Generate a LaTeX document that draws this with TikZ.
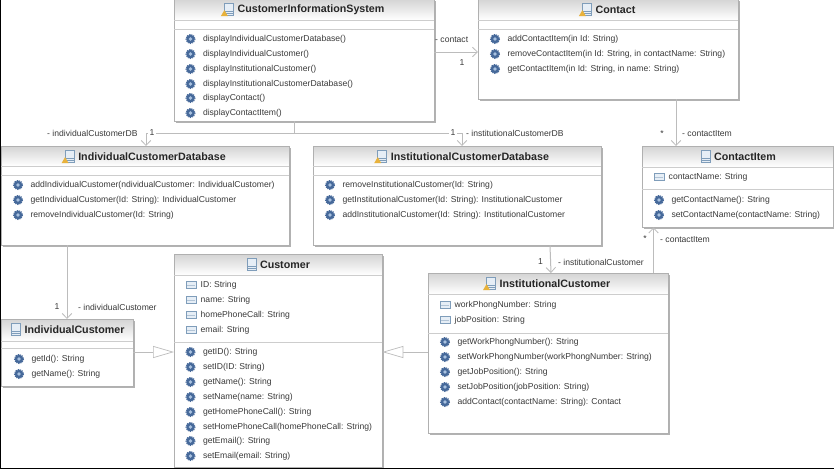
\documentclass[tikz,border=0pt]{standalone}
\usepackage{fontspec}
\setmainfont{Liberation Sans}
\usetikzlibrary{arrows.meta,calc}
\definecolor{edgec}{HTML}{B0B0B0}
\definecolor{connc}{HTML}{BCBCBC}
\definecolor{sepc}{HTML}{CDCDCD}
\definecolor{txtc}{HTML}{3A3A3A}
\definecolor{gearc}{HTML}{46699A}
\definecolor{gearl}{HTML}{A9C2E0}
\definecolor{iconc}{HTML}{7F9DBA}
\definecolor{iconf}{HTML}{E6EEF6}
\definecolor{warnc}{HTML}{E8B23C}
\tikzset{
 x=1pt,y=-1pt,
 classbox/.style={inner sep=0,rectangle},
 conn/.style={draw=connc,line width=1pt},
 navi/.style={conn,-{Straight Barb[length=5pt,width=9.5pt,line width=.8pt]}},
 gen/.style={conn,-{Triangle[open,length=21pt,width=12pt,fill=white,line width=.7pt]}},
 mem/.style={anchor=west,inner sep=0,font=\fontsize{8.6}{10}\selectfont,text=txtc},
 ttl/.style={anchor=center,inner sep=0,font=\bfseries\fontsize{10.7}{12}\selectfont,text=black!85},
 lab/.style={inner sep=0,font=\fontsize{8.6}{10}\selectfont,text=txtc},
 labw/.style={lab,fill=white,inner sep=1.5pt},
}
% name, x0,y0,x1,y1, title-bottom y, title centre x, title, warning(1/0)
\newcommand{\classbox}[9]{%
 \fill[black!30] (#2+1.8,#3+1.8) rectangle (#4+1.8,#5+1.8);
 \fill[white] (#2,#3) rectangle (#4,#5);
 \shade[top color=black!17,bottom color=white] (#2,#3) rectangle (#4,#6);
 \node[classbox,minimum width=#4pt-#2pt,minimum height=#5pt-#3pt,anchor=north west] (#1) at (#2,#3) {};
 \draw[edgec,line width=.8pt] (#2,#3) rectangle (#4,#5);
 \draw[sepc,line width=.8pt] (#2,#6) -- (#4,#6);
 \node[ttl] (#1t) at (#7,#3+10.6) {#8};
 \draw[iconc,fill=iconf,line width=.6pt] ($(#1t.west)+(-13,-6)$) rectangle ($(#1t.west)+(-4,6)$);
 \draw[iconc,line width=.5pt] ($(#1t.west)+(-13,1.5)$) -- ($(#1t.west)+(-4,1.5)$);
 \draw[iconc,line width=.5pt] ($(#1t.west)+(-13,3.7)$) -- ($(#1t.west)+(-4,3.7)$);
 \ifnum#9=1
 \fill[warnc] ($(#1t.west)+(-16.5,6.5)$) -- ($(#1t.west)+(-9.5,6.5)$) -- ($(#1t.west)+(-13,0.5)$) -- cycle;
 \fi
}
\newcommand{\sepl}[3]{\draw[sepc,line width=.8pt] (#1,#3) -- (#2,#3);}
% operation: x icon, y, text
\newcommand{\op}[3]{%
 \fill[gearc] (#1,#2) circle (4.3);
 \draw[gearc,line width=.9pt,dash pattern=on 1.2pt off 1pt] (#1,#2) circle (4.6);
 \fill[gearl] (#1,#2) circle (1.9);
 \node[mem] at (#1+12.3,#2+.5) {#3};}
% attribute: x icon, y, text
\newcommand{\attr}[3]{%
 \draw[iconc,fill=iconf,line width=.8pt] (#1-5,#2-3.2) rectangle (#1+5,#2+3.2);
 \draw[iconc!60,line width=1.2pt] (#1-3.6,#2+.3) -- (#1+3.6,#2+.3);
 \node[mem] at (#1+9.5,#2+.5) {#3};}
\begin{document}
\begin{tikzpicture}
\useasboundingbox (0,0) rectangle (834,469);
\fill[white] (0,0) rectangle (834,469);

\classbox{cis}{174}{-1}{434}{121}{20}{311}{CustomerInformationSystem}{1}
\sepl{174}{434}{29}
\op{190.5}{39}{displayIndividualCustomerDatabase()}
\op{190.5}{54}{displayIndividualCustomer()}
\op{190.5}{69}{displayInstitutionalCustomer()}
\op{190.5}{84}{displayInstitutionalCustomerDatabase()}
\op{190.5}{98}{displayContact()}
\op{190.5}{113}{displayContactItem()}

\classbox{contact}{478}{-1}{738}{99}{20}{615.5}{Contact}{1}
\sepl{478}{738}{29}
\op{495}{39}{addContactItem(in Id: String)}
\op{495}{54}{removeContactItem(in Id: String, in contactName: String)}
\op{495}{69}{getContactItem(in Id: String, in name: String)}

\classbox{icd}{1}{146}{289}{245}{166}{152}{IndividualCustomerDatabase}{1}
\sepl{1}{289}{175}
\op{18}{185}{addIndividualCustomer(ndividualCustomer: IndividualCustomer)}
\op{18}{200}{getIndividualCustomer(Id: String): IndividualCustomer}
\op{18}{215}{removeIndividualCustomer(Id: String)}

\classbox{instdb}{313}{146}{601}{245}{166}{470}{InstitutionalCustomerDatabase}{1}
\sepl{313}{601}{175}
\op{330}{185}{removeInstitutionalCustomer(Id: String)}
\op{330}{200}{getInstitutionalCustomer(Id: String): InstitutionalCustomer}
\op{330}{215}{addInstitutionalCustomer(Id: String): InstitutionalCustomer}

\classbox{item}{642}{146}{833}{227}{167}{745}{ContactItem}{0}
\sepl{642}{833}{189}
\attr{659}{177}{contactName: String}
\op{659}{200}{getContactName(): String}
\op{659}{215}{setContactName(contactName: String)}

\classbox{cust}{174}{254}{382}{467}{275}{285}{Customer}{0}
\sepl{174}{382}{342}
\attr{191}{285}{ID: String}
\attr{191}{300}{name: String}
\attr{191}{315}{homePhoneCall: String}
\attr{191}{330}{email: String}
\op{190.5}{352}{getID(): String}
\op{190.5}{367}{setID(ID: String)}
\op{190.5}{382}{getName(): String}
\op{190.5}{397}{setName(name: String)}
\op{190.5}{412}{getHomePhoneCall(): String}
\op{190.5}{427}{setHomePhoneCall(homePhoneCall: String)}
\op{190.5}{441}{getEmail(): String}
\op{190.5}{456}{setEmail(email: String)}

\classbox{inst}{428}{273}{668}{433}{294}{555}{InstitutionalCustomer}{1}
\sepl{428}{668}{333}
\attr{445}{305}{workPhongNumber: String}
\attr{445}{320}{jobPosition: String}
\op{445}{342}{getWorkPhongNumber(): String}
\op{445}{357}{setWorkPhongNumber(workPhongNumber: String)}
\op{445}{372}{getJobPosition(): String}
\op{445}{387}{setJobPosition(jobPosition: String)}
\op{445}{402}{addContact(contactName: String): Contact}

\classbox{indiv}{1}{319}{133}{386}{341}{74.5}{IndividualCustomer}{0}
\sepl{1}{133}{348}
\op{19}{359}{getId(): String}
\op{19}{374}{getName(): String}

% connectors, each from node to node
\coordinate (hub) at ($(cis.south west)+(120,12)$);
\draw[conn] ($(cis.south west)+(120,0)$) -- (hub);
\draw[navi] (hub) -| ($(icd.north west)+(145,0)$);
\draw[navi] (hub) -| ($(instdb.north west)+(149,0)$);
\draw[navi] ($(cis.north east)+(0,53)$) -- ($(contact.north west)+(0,53)$);
\draw[navi] ($(contact.south west)+(198,0)$) -- ($(item.north west)+(34,0)$);
\draw[navi] ($(inst.north west)+(225.5,0)$) -- ($(item.south west)+(11.5,0)$);
\draw[navi] ($(instdb.south west)+(237,0)$) -- ($(inst.north west)+(123,0)$);
\draw[navi] ($(icd.south west)+(66,0)$) -- ($(indiv.north west)+(66,0)$);
\draw[gen] ($(indiv.north east)+(0,33)$) -- ($(cust.north west)+(0,98)$);
\draw[gen] ($(inst.north west)+(0,79)$) -- ($(cust.north east)+(0,98)$);

\node[lab,anchor=west] (l1) at (435,40) {- contact};
\node[lab] (l2) at (462,63) {1};
\node[lab,anchor=west] (l3) at (47,133) {- individualCustomerDB};
\node[labw] (l4) at (152,133) {1};
\node[labw] (l5) at (453,133) {1};
\node[lab,anchor=west] (l6) at (466,133) {- institutionalCustomerDB};
\node[lab] (l7) at (662,134) {*};
\node[lab,anchor=west] (l8) at (682,134) {- contactItem};
\node[lab] (l9) at (645,239) {*};
\node[lab,anchor=west] (l10) at (660,240) {- contactItem};
\node[lab] (l11) at (540.5,262) {1};
\node[lab,anchor=west] (l12) at (558,262) {- institutionalCustomer};
\node[lab] (l13) at (57,307) {1};
\node[lab,anchor=west] (l14) at (78,307) {- individualCustomer};
\draw[black,line width=1.2pt] (0.5,0) -- (0.5,468.3) -- (834,468.3);
\end{tikzpicture}
\end{document}
